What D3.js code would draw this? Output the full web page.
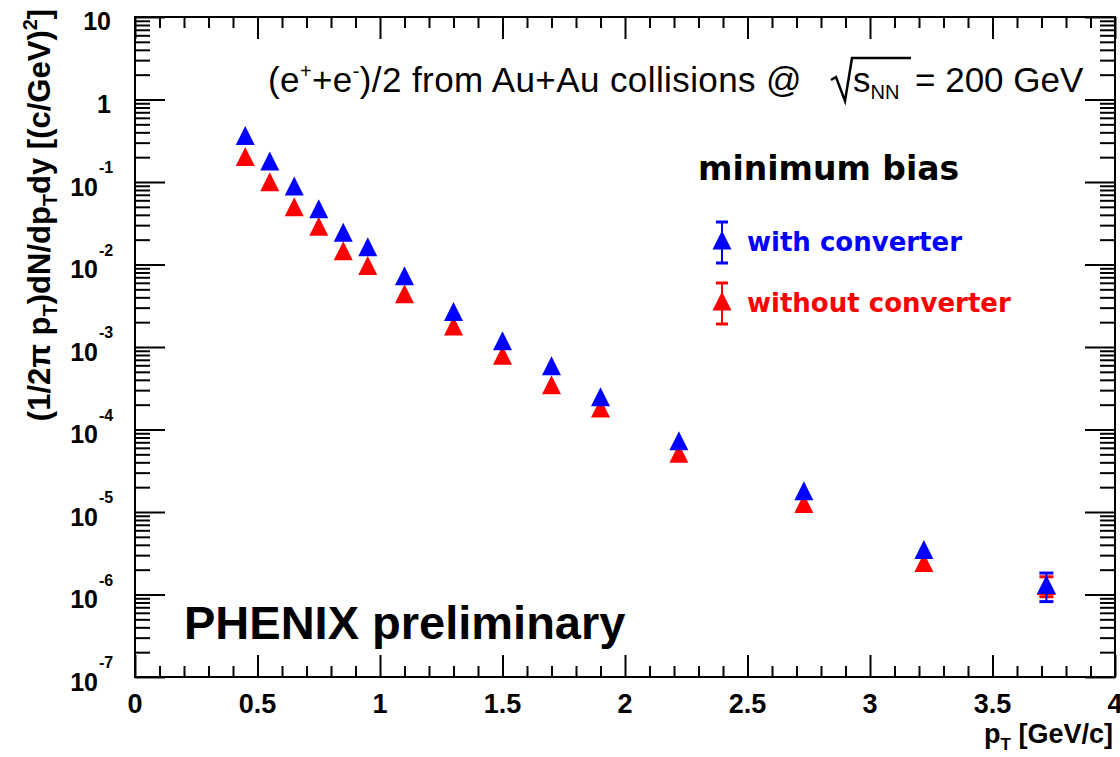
<!DOCTYPE html>
<html>
<head>
<meta charset="utf-8">
<script src="https://cdn.jsdelivr.net/npm/d3@7"></script>
<style>
  body { margin: 0; background: #fff; }
  svg { display: block; }
  .tick line { stroke: #000; stroke-width: 2; }
  .domain { display: none; }
</style>
</head>
<body>
<svg id="chart" width="1120" height="757"></svg>
<script>
// pT bin positions [GeV/c]
var pt = [0.45, 0.55, 0.65, 0.75, 0.85, 0.95, 1.1, 1.3, 1.5, 1.7, 1.9, 2.22, 2.73, 3.22, 3.72];

// (e+ + e-)/2 yields, with converter
var withConv = [0.366, 0.180, 0.0895, 0.0473, 0.0246, 0.0164, 0.00729, 0.00269, 0.00119,
  5.93e-4, 2.49e-4, 7.29e-5, 1.81e-5, 3.51e-6, 1.32e-6];
var withConvErr = [0, 0, 0, 0, 0, 0, 0, 0, 0, 0, 0, 0, 0, 0, 0.5e-6];

// without converter
var withoutConv = [0.204, 0.101, 0.0502, 0.0290, 0.0147, 0.00973, 0.00443, 0.0018, 7.93e-4,
  3.49e-4, 1.82e-4, 5.15e-5, 1.27e-5, 2.45e-6, 1.29e-6];
var withoutConvErr = [0, 0, 0, 0, 0, 0, 0, 0, 0, 0, 0, 0, 0, 0, 0.35e-6];

var xMajor = [0, 0.5, 1, 1.5, 2, 2.5, 3, 3.5, 4];
var xLabels = ["0", "0.5", "1", "1.5", "2", "2.5", "3", "3.5", "4"];
var yDecades = [-7, -6, -5, -4, -3, -2, -1, 0, 1];

(function () {
  var svg = d3.select("#chart");
  var left = 135, right = 1115, frameTop = 17, bottom = 677;

  var x = d3.scaleLinear().domain([0, 4]).range([left, right]);
  var y = d3.scaleLog().domain([1e-7, 10]).range([bottom, frameTop]);

  svg.append("rect").attr("width", 1120).attr("height", 757).attr("fill", "#fff");

  //
  // axes (ticks pointing inwards on all four sides)
  //
  var xMinor = d3.range(0, 41).map(function (i) { return i / 10; })
    .filter(function (v) { return xMajor.indexOf(v) < 0; });
  var yMajor = yDecades.map(function (e) { return Math.pow(10, e); });
  var yMinor = [];
  yDecades.slice(0, -1).forEach(function (e) {
    for (var k = 2; k <= 9; k++) yMinor.push(k * Math.pow(10, e));
  });

  function addAxis(axisFn, scale, values, size, transform) {
    svg.append("g")
      .attr("transform", transform)
      .call(axisFn(scale).tickValues(values).tickSize(-size).tickSizeOuter(0).tickFormat(""));
  }
  addAxis(d3.axisBottom, x, xMajor, 22, "translate(0," + bottom + ")");
  addAxis(d3.axisBottom, x, xMinor, 11, "translate(0," + bottom + ")");
  addAxis(d3.axisTop, x, xMajor, 22, "translate(0," + frameTop + ")");
  addAxis(d3.axisTop, x, xMinor, 11, "translate(0," + frameTop + ")");
  addAxis(d3.axisLeft, y, yMajor, 30, "translate(" + left + ",0)");
  addAxis(d3.axisLeft, y, yMinor, 15, "translate(" + left + ",0)");
  addAxis(d3.axisRight, y, yMajor, 30, "translate(" + right + ",0)");
  addAxis(d3.axisRight, y, yMinor, 15, "translate(" + right + ",0)");

  svg.append("rect")
    .attr("x", left).attr("y", frameTop)
    .attr("width", right - left).attr("height", bottom - frameTop)
    .attr("fill", "none").attr("stroke", "#000").attr("stroke-width", 2);

  // x tick labels
  svg.append("g").selectAll("text")
    .data(xMajor)
    .enter().append("text")
    .attr("x", function (d) { return x(d); })
    .attr("y", 713)
    .attr("text-anchor", "middle")
    .style("font", "bold 27px 'Liberation Sans', Arial, sans-serif")
    .text(function (d, i) { return xLabels[i]; });

  // y tick labels, 10^n
  var yl = svg.append("g").style("font-family", "'Liberation Sans', Arial, sans-serif")
    .style("font-weight", "bold");
  yDecades.forEach(function (e) {
    var yy = y(Math.pow(10, e));
    if (e >= 0) {
      yl.append("text").attr("x", 111).attr("y", yy + 13)
        .attr("text-anchor", "end").style("font-size", "25px")
        .text(e === 0 ? "1" : "10");
    } else {
      yl.append("text").attr("x", 98).attr("y", yy + 13.5)
        .attr("text-anchor", "end").style("font-size", "25px").text("10");
      yl.append("text").attr("x", 99).attr("y", yy - 9)
        .style("font-size", "16px").text(String(e));
    }
  });

  // axis titles
  var yt = svg.append("text")
    .attr("transform", "translate(50,215) rotate(-90)")
    .attr("text-anchor", "middle")
    .style("font", "bold 31px 'Liberation Sans', Arial, sans-serif");
  yt.append("tspan").text("(1/2\u03c0 p");
  yt.append("tspan").attr("dy", 7).style("font-size", "20px").text("T");
  yt.append("tspan").attr("dy", -7).text(")dN/dp");
  yt.append("tspan").attr("dy", 7).style("font-size", "20px").text("T");
  yt.append("tspan").attr("dy", -7).text("dy [(c/GeV)");
  yt.append("tspan").attr("dy", -13).style("font-size", "20px").text("2");
  yt.append("tspan").attr("dy", 13).text("]");

  var xt = svg.append("text")
    .attr("x", 1113).attr("y", 743)
    .attr("text-anchor", "end")
    .style("font", "bold 27px 'Liberation Sans', Arial, sans-serif");
  xt.append("tspan").text("p");
  xt.append("tspan").attr("dy", 7).style("font-size", "17px").text("T");
  xt.append("tspan").attr("dy", -7).text(" [GeV/c]");

  //
  // title
  //
  var tf = "35px 'Liberation Sans', Arial, sans-serif";
  var t1 = svg.append("text").attr("x", 268).attr("y", 92).style("font", tf)
    .style("letter-spacing", "0.4px");
  t1.append("tspan").text("(e");
  t1.append("tspan").attr("dy", -14).style("font-size", "20px").text("+");
  t1.append("tspan").attr("dy", 14).text("+e");
  t1.append("tspan").attr("dy", -14).style("font-size", "20px").text("-");
  t1.append("tspan").attr("dy", 14).text(")/2 from Au+Au collisions @");

  svg.append("path")
    .attr("d", "M831,80 L836,77 L845,101 L852,58 L911,58")
    .attr("fill", "none").attr("stroke", "#000").attr("stroke-width", 2.5);
  var t2 = svg.append("text").attr("x", 853).attr("y", 92).style("font", tf);
  t2.append("tspan").text("s");
  t2.append("tspan").attr("dy", 7).style("font-size", "20px").text("NN");
  svg.append("text").attr("x", 915).attr("y", 92).style("font", tf).text("= 200 GeV");

  svg.append("text").attr("x", 698).attr("y", 180)
    .style("font", "bold 33px 'DejaVu Sans', Verdana, sans-serif")
    .text("minimum bias");

  svg.append("text").attr("x", 184).attr("y", 639)
    .style("font", "bold 47px 'Liberation Sans', Arial, sans-serif")
    .text("PHENIX preliminary");

  //
  // data markers
  //
  var S = 9.5;
  function triangle(cx, cy) {
    return "M" + (cx - S) + "," + (cy + S) + "L" + (cx + S) + "," + (cy + S) +
      "L" + cx + "," + (cy - S) + "Z";
  }

  function drawSeries(vals, errs, color) {
    var g = svg.append("g");
    vals.forEach(function (v, i) {
      var cx = x(pt[i]), cy = y(v);
      if (errs[i] > 0) {
        var y1 = y(v + errs[i]), y2 = y(v - errs[i]);
        g.append("line").attr("x1", cx).attr("x2", cx).attr("y1", y1).attr("y2", y2)
          .attr("stroke", color).attr("stroke-width", 2);
        [y1, y2].forEach(function (yy) {
          g.append("line").attr("x1", cx - 7).attr("x2", cx + 7).attr("y1", yy).attr("y2", yy)
            .attr("stroke", color).attr("stroke-width", 3);
        });
      }
      g.append("path").attr("d", triangle(cx, cy)).attr("fill", color);
    });
  }
  drawSeries(withoutConv, withoutConvErr, "#ff0000");
  drawSeries(withConv, withConvErr, "#0000ff");

  //
  // legend
  //
  var legend = [
    { label: "with converter", color: "#0000ff", y: 240 },
    { label: "without converter", color: "#ff0000", y: 301 }
  ];
  legend.forEach(function (d) {
    var g = svg.append("g");
    g.append("line").attr("x1", 722).attr("x2", 722).attr("y1", d.y - 18).attr("y2", d.y + 23)
      .attr("stroke", d.color).attr("stroke-width", 2);
    [d.y - 18, d.y + 23].forEach(function (yy) {
      g.append("line").attr("x1", 716).attr("x2", 728).attr("y1", yy).attr("y2", yy)
        .attr("stroke", d.color).attr("stroke-width", 3);
    });
    g.append("path").attr("d", triangle(722, d.y)).attr("fill", d.color);
    g.append("text").attr("x", 747).attr("y", d.y + 11)
      .attr("fill", d.color)
      .style("font", "bold 26px 'DejaVu Sans', Verdana, sans-serif")
      .text(d.label);
  });
})();
</script>
</body>
</html>
